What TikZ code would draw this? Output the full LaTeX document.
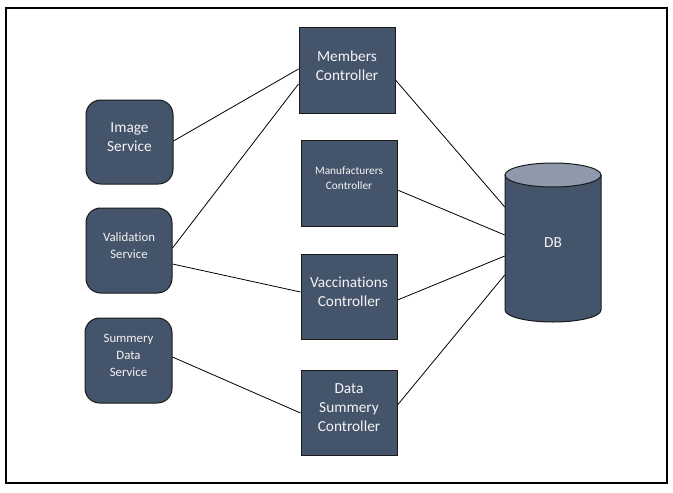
\documentclass[tikz,border=0pt]{standalone}
\usepackage{fontspec}
\setmainfont{Carlito}[Ligatures={NoCommon}]
\newlength\pxu
\setlength\pxu{0.75pt}
\definecolor{boxfill}{HTML}{44546A}
\definecolor{dbtop}{HTML}{8E9AAB}
\definecolor{edgecol}{HTML}{1A1A1A}
\definecolor{txtcol}{HTML}{F4F4F4}
\begin{document}
\begin{tikzpicture}[x=0.75pt,y=-0.75pt,
  box/.style={draw=edgecol, fill=boxfill, line width=0.75pt, inner sep=0pt},
  ctrl/.style={box, minimum width=96\pxu, minimum height=85\pxu},
  svc/.style={box, rounded corners=11pt, minimum width=87\pxu, minimum height=85\pxu},
  lab/.style={align=center, text=txtcol, yshift=5\pxu},
  big/.style={font=\fontsize{11.5}{14.25}\selectfont},
  mid/.style={font=\fontsize{9.6}{12.75}\selectfont},
  small/.style={font=\fontsize{8.5}{11.25}\selectfont},
  conn/.style={draw=black, line width=0.6pt}]
\useasboundingbox (0,0) rectangle (673,492);
\draw[line width=0.9pt] (6,8) rectangle (667,483);

% controllers
\node[ctrl, label={[lab,big]center:{Members\\Controller}}] (mem) at (347,70.5) {};
\node[ctrl, minimum height=86\pxu, label={[lab,small]center:{Manufacturers\\Controller}}] (man) at (349,183) {};
\node[ctrl, label={[lab,big]center:{Vaccinations\\Controller}}] (vac) at (349,296.5) {};
\node[ctrl, label={[lab,big]center:{Data\\Summery\\Controller}}] (dsc) at (349,412.5) {};

% services
\node[svc, minimum height=84\pxu, label={[lab,big]center:{Image\\Service}}] (img) at (129.5,142) {};
\node[svc, minimum width=86\pxu, label={[lab,mid]center:{Validation\\Service}}] (val) at (129,250.5) {};
\node[svc, label={[lab,mid]center:{Summery\\Data\\Service}}] (sds) at (128.5,360.5) {};

% database cylinder
\filldraw[fill=boxfill, draw=edgecol, line width=0.75pt] (505,175) -- (505,310)
  arc[start angle=180, end angle=0, x radius=48, y radius=12] -- (601,175) -- cycle;
\filldraw[fill=dbtop, draw=edgecol, line width=0.75pt] (553,175) ellipse [x radius=48, y radius=12];
\node[inner sep=0pt, minimum width=96\pxu, minimum height=135\pxu, text=txtcol, big] (db) at (553,242.5) {DB};

% connectors
\draw[conn] (img.east |- 0,141) -- (mem.west |- 0,69);
\draw[conn] (val.east |- 0,248) -- (mem.west |- 0,84);
\draw[conn] (val.east |- 0,264) -- (vac.west |- 0,292);
\draw[conn] (sds.east |- 0,357) -- (dsc.west |- 0,413);
\draw[conn] (mem.east |- 0,80) -- (db.west |- 0,207);
\draw[conn] (man.east |- 0,190) -- (db.west |- 0,235);
\draw[conn] (vac.east |- 0,300) -- (db.west |- 0,256);
\draw[conn] (dsc.east |- 0,405) -- (db.west |- 0,275);
\end{tikzpicture}
\end{document}
